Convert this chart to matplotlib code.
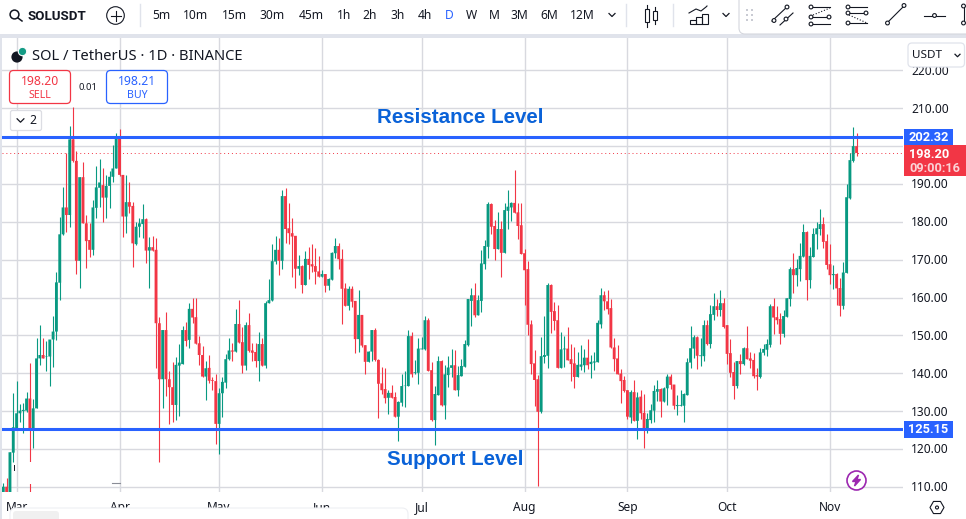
import matplotlib
matplotlib.use("Agg")
import numpy as np
import pandas as pd
import matplotlib.pyplot as plt
import matplotlib.dates as mdates
from matplotlib.patches import Rectangle, FancyBboxPatch, Circle, RegularPolygon

plt.rcParams['font.family'] = ['Noto Sans', 'DejaVu Sans']

# daily SOL/USDT candles
start_date = "2024-02-26"

opens = [
    106.5, 110.0, 106.5, 119.0, 125.4, 129.4, 130.0, 130.1, 133.3, 125.2,
    130.7, 143.9, 144.8, 144.4, 144.4, 148.9, 151.0, 163.9, 176.7, 183.8,
    181.8, 201.8, 196.1, 169.7, 191.8, 179.6, 175.2, 172.6, 183.7, 189.0,
    189.7, 186.4, 189.5, 191.9, 194.1, 202.5, 192.4, 181.4, 185.2, 184.2,
    174.1, 178.7, 179.4, 180.7, 172.4, 173.3, 172.6, 153.2, 138.4, 151.4,
    138.4, 136.3, 131.6, 142.0, 142.4, 151.4, 148.8, 157.0, 154.8, 147.9,
    144.8, 139.1, 141.4, 138.2, 137.9, 126.6, 134.7, 137.5, 143.7, 146.0,
    145.7, 153.0, 148.2, 142.0, 152.7, 146.0, 145.6, 143.2, 147.7, 142.0,
    158.5, 159.2, 169.5, 172.6, 169.7, 186.8, 178.3, 177.0, 176.3, 167.6,
    168.3, 163.3, 170.2, 168.8, 168.3, 166.9, 165.5, 166.2, 163.1, 164.7,
    171.7, 173.6, 170.2, 162.4, 157.8, 162.3, 159.1, 149.0, 155.4, 147.4,
    143.0, 145.7, 151.4, 143.5, 137.3, 135.8, 133.5, 134.8, 133.7, 128.5,
    132.2, 136.6, 136.6, 149.8, 140.1, 140.1, 146.3, 146.3, 154.0, 140.8,
    127.6, 134.2, 143.2, 131.5, 139.5, 141.4, 142.1, 135.5, 139.2, 141.7,
    147.4, 159.1, 160.6, 155.3, 159.1, 168.8, 173.4, 184.7, 178.9, 172.8,
    178.1, 171.8, 182.9, 183.8, 185.0, 182.5, 179.1, 171.7, 167.5, 152.9,
    142.6, 138.4, 129.8, 144.3, 144.6, 163.3, 156.4, 154.0, 141.4, 146.3,
    146.5, 143.7, 142.6, 139.0, 141.7, 142.1, 144.1, 142.4, 142.8, 142.9,
    152.9, 160.6, 159.0, 157.2, 146.8, 143.9, 139.9, 138.2, 135.5, 128.3,
    135.0, 127.4, 133.8, 129.5, 125.0, 127.6, 130.1, 135.1, 135.8, 132.5,
    136.0, 139.1, 137.0, 131.3, 131.4, 131.4, 134.2, 142.8, 146.5, 149.5,
    144.5, 144.5, 152.7, 147.7, 155.4, 157.7, 156.7, 158.5, 152.7, 145.3,
    140.3, 136.6, 143.2, 142.4, 146.6, 143.9, 143.5, 139.5, 139.0, 145.4,
    146.2, 147.5, 157.7, 154.8, 154.3, 150.4, 154.9, 159.6, 167.5, 165.9,
    167.5, 170.8, 177.3, 164.6, 170.7, 176.7, 178.1, 179.4, 174.9, 168.8,
    165.9, 166.2, 162.5, 157.8, 166.5, 186.2, 196.1, 200.0,
]
highs = [
    110.9, 112.2, 119.1, 134.7, 137.9, 131.9, 132.0, 135.1, 142.6, 133.3,
    149.2, 152.7, 149.2, 148.5, 148.9, 155.1, 166.8, 181.4, 189.1, 198.1,
    205.3, 210.3, 198.8, 191.8, 195.9, 181.8, 179.6, 185.8, 194.8, 196.5,
    194.1, 192.4, 193.3, 200.3, 203.4, 204.5, 192.4, 192.4, 190.4, 185.3,
    180.0, 180.9, 184.7, 180.9, 176.1, 176.3, 175.6, 154.9, 151.4, 156.3,
    140.7, 143.0, 144.2, 147.7, 152.5, 153.6, 158.5, 160.0, 159.8, 149.8,
    147.2, 143.2, 144.8, 139.1, 139.8, 136.0, 138.9, 145.0, 149.2, 147.9,
    156.9, 159.3, 152.1, 153.4, 155.8, 147.9, 147.9, 150.8, 149.2, 159.2,
    164.9, 174.1, 176.3, 175.6, 188.4, 188.9, 185.1, 180.9, 176.3, 171.2,
    168.6, 172.3, 173.4, 174.1, 173.0, 171.0, 167.3, 166.2, 165.1, 172.1,
    175.6, 174.3, 172.8, 163.7, 163.0, 163.1, 159.1, 162.0, 155.4, 147.4,
    145.9, 151.4, 151.9, 143.7, 141.7, 141.3, 135.5, 136.9, 135.1, 132.7,
    139.9, 140.6, 151.4, 150.8, 143.4, 149.2, 149.6, 155.2, 154.5, 142.9,
    136.6, 144.5, 143.4, 142.1, 144.5, 146.3, 146.1, 141.9, 143.7, 148.7,
    159.6, 162.4, 163.7, 160.6, 172.5, 175.2, 185.3, 185.0, 180.6, 182.5,
    180.3, 185.1, 188.4, 185.3, 193.8, 185.1, 185.1, 172.9, 169.6, 154.0,
    146.1, 139.5, 149.6, 155.1, 163.7, 163.5, 158.9, 158.0, 150.8, 149.8,
    152.2, 147.7, 147.0, 145.6, 147.4, 146.3, 149.0, 144.8, 145.5, 154.0,
    162.5, 161.8, 161.9, 159.7, 149.2, 147.4, 141.0, 139.2, 135.5, 135.5,
    138.2, 135.1, 135.5, 134.5, 129.4, 131.8, 137.0, 138.2, 136.2, 136.4,
    139.8, 139.7, 137.0, 134.2, 135.5, 134.7, 144.1, 152.5, 150.2, 149.8,
    149.2, 154.0, 154.0, 158.0, 161.3, 159.6, 162.0, 159.9, 152.7, 149.0,
    143.0, 143.2, 145.1, 147.0, 152.5, 145.5, 145.4, 141.3, 146.6, 147.7,
    149.0, 158.3, 159.9, 157.7, 155.8, 156.7, 159.8, 168.1, 171.7, 170.3,
    174.3, 179.4, 177.6, 173.4, 178.3, 180.0, 183.4, 181.3, 176.8, 174.1,
    168.6, 166.6, 165.1, 169.3, 190.0, 198.1, 205.1, 203.4,
]
lows = [
    106.0, 106.0, 106.0, 116.6, 125.0, 127.2, 124.3, 129.8, 106.0, 120.1,
    130.7, 142.2, 143.9, 140.7, 136.6, 141.7, 148.9, 159.3, 176.5, 177.4,
    178.7, 195.9, 166.2, 162.6, 179.6, 167.9, 170.6, 171.2, 180.9, 183.8,
    180.0, 180.9, 183.6, 190.6, 194.1, 192.1, 176.1, 177.0, 182.2, 168.1,
    173.9, 175.9, 175.6, 169.2, 162.6, 172.4, 141.3, 116.6, 130.7, 134.0,
    126.7, 127.2, 127.6, 128.7, 142.4, 147.2, 146.7, 153.3, 147.8, 142.2,
    138.9, 132.9, 137.3, 135.5, 121.3, 118.6, 128.5, 136.0, 143.5, 143.3,
    145.7, 148.1, 140.0, 140.8, 145.7, 143.3, 141.7, 138.0, 142.0, 141.4,
    158.5, 159.2, 168.9, 165.9, 167.5, 174.5, 174.1, 165.5, 162.6, 165.9,
    161.3, 163.3, 164.9, 166.8, 163.6, 165.5, 165.5, 161.5, 162.0, 164.6,
    170.4, 167.5, 153.0, 157.8, 156.7, 157.4, 145.4, 145.7, 147.0, 139.8,
    143.0, 143.3, 143.3, 128.2, 134.5, 132.2, 129.1, 133.4, 128.5, 122.2,
    131.3, 131.1, 136.6, 139.0, 139.9, 137.1, 146.3, 146.1, 140.6, 127.4,
    121.0, 134.2, 131.3, 127.9, 136.4, 138.9, 135.5, 133.9, 139.2, 141.7,
    147.2, 152.5, 154.9, 155.3, 156.2, 167.4, 170.5, 176.7, 169.9, 172.8,
    165.5, 171.8, 178.1, 180.3, 182.2, 175.4, 171.5, 158.0, 150.0, 139.9,
    131.3, 110.1, 129.5, 142.6, 141.4, 150.5, 151.4, 141.4, 141.4, 141.7,
    143.4, 138.0, 136.1, 139.0, 140.8, 140.4, 141.1, 138.8, 140.8, 142.9,
    152.0, 156.6, 155.6, 146.7, 140.6, 139.7, 132.2, 135.1, 128.0, 126.9,
    127.4, 122.6, 127.9, 120.3, 124.3, 126.9, 127.2, 132.6, 128.5, 132.3,
    131.6, 135.8, 130.6, 128.9, 131.3, 127.2, 134.2, 141.4, 143.9, 141.1,
    141.9, 143.3, 147.4, 146.6, 154.0, 155.2, 155.2, 152.0, 142.4, 138.9,
    133.2, 136.1, 139.9, 142.1, 143.7, 141.3, 138.8, 135.5, 138.8, 144.8,
    144.5, 146.8, 150.3, 153.0, 147.7, 149.6, 154.9, 157.7, 161.3, 163.1,
    164.3, 170.8, 159.3, 162.6, 170.6, 172.7, 176.5, 173.1, 167.5, 163.6,
    162.2, 158.0, 155.1, 156.9, 166.5, 186.0, 195.9, 197.4,
]
closes = [
    110.0, 106.5, 119.1, 125.7, 129.4, 130.1, 130.3, 133.3, 125.2, 130.7,
    143.9, 144.8, 143.9, 144.5, 148.9, 151.0, 164.0, 176.7, 183.8, 181.8,
    201.8, 196.1, 169.7, 191.8, 179.6, 174.9, 172.6, 183.8, 189.1, 190.4,
    186.4, 189.5, 191.9, 194.1, 202.5, 192.4, 181.4, 185.2, 184.0, 174.3,
    178.7, 179.6, 180.7, 172.4, 173.3, 172.4, 153.2, 138.4, 151.4, 138.4,
    136.3, 131.6, 142.2, 142.8, 151.4, 148.5, 157.0, 154.7, 147.8, 144.8,
    139.1, 141.3, 138.0, 138.0, 126.6, 134.7, 137.7, 143.7, 146.0, 145.7,
    153.0, 148.1, 142.0, 152.7, 145.9, 145.4, 143.2, 147.7, 142.0, 158.5,
    159.3, 169.6, 172.6, 169.7, 186.8, 178.1, 177.0, 176.1, 167.6, 168.3,
    163.3, 170.2, 168.6, 168.2, 166.8, 165.5, 166.2, 163.1, 164.9, 171.8,
    173.6, 170.1, 162.3, 157.8, 162.3, 158.9, 149.0, 155.4, 147.3, 143.0,
    145.7, 151.4, 143.5, 137.2, 135.5, 133.4, 134.8, 133.5, 128.5, 132.4,
    136.6, 136.7, 149.8, 139.7, 140.3, 146.5, 146.5, 154.0, 140.6, 127.6,
    134.5, 143.2, 131.5, 139.7, 141.5, 142.1, 135.5, 139.5, 141.9, 147.7,
    159.6, 160.6, 155.3, 159.3, 169.0, 173.6, 184.7, 178.7, 172.8, 178.1,
    171.8, 183.1, 184.0, 185.0, 182.4, 178.9, 171.5, 167.2, 152.8, 142.4,
    138.2, 129.8, 144.5, 144.8, 163.3, 156.2, 153.8, 141.4, 146.3, 146.5,
    143.4, 142.4, 139.0, 142.2, 142.3, 144.1, 142.1, 143.0, 143.1, 153.3,
    160.6, 159.0, 156.9, 146.8, 143.7, 139.7, 137.9, 135.3, 128.5, 135.0,
    127.4, 133.6, 129.4, 125.0, 127.9, 130.2, 135.3, 135.8, 132.5, 136.0,
    139.1, 136.9, 131.4, 131.6, 131.6, 134.5, 142.9, 146.6, 149.5, 144.6,
    144.7, 152.7, 147.7, 155.6, 157.7, 156.7, 158.5, 152.2, 145.1, 140.1,
    136.6, 143.2, 142.4, 146.6, 143.7, 143.3, 139.2, 139.1, 145.5, 146.4,
    147.7, 157.7, 154.7, 154.0, 150.4, 155.1, 159.8, 167.5, 165.9, 167.8,
    171.0, 177.3, 164.6, 171.0, 176.8, 178.3, 179.4, 174.7, 168.6, 165.9,
    166.2, 162.4, 157.8, 166.6, 186.5, 196.3, 200.0, 198.2,
]

resistance = 202.32
support = 125.15
last_price = 198.20
buy_price = 198.21
price_ticks = [110, 120, 130, 140, 150, 160, 170, 180, 190, 200, 210, 220]
tick_labels = ["110.00", "120.00", "130.00", "140.00", "150.00", "160.00",
               "170.00", "180.00", "190.00", "", "210.00", "220.00"]
timeframes = ["5m", "10m", "15m", "30m", "45m", "1h", "2h", "3h", "4h", "D",
              "W", "M", "3M", "6M", "12M"]

GREEN = "#089981"
RED = "#F23645"
BLUE = "#2962FF"
GRID = "#d8d9df"
TEXT = "#131722"
BOLD = ["Roboto", "DejaVu Sans"]
W, H = 966, 519


def pane_axes(fig):
    # pane spans x 2..903, y 38..492 in pixels
    ax = fig.add_axes([2 / W, 1 - 492 / H, 901 / W, 454 / H], zorder=1)
    t0 = mdates.date2num(pd.Timestamp(start_date))
    ax.set_xlim(t0 + (2 - 3.3) / 3.32, t0 + (903 - 3.3) / 3.32)
    ax.set_ylim(210 - (492 - 108.3) / 3.784, 210 + (108.3 - 38) / 3.784)
    for s in ax.spines.values():
        s.set_visible(False)
    ax.tick_params(length=0, labelbottom=False, labelleft=False)
    ax.xaxis.set_major_locator(mdates.MonthLocator())
    ax.set_yticks(price_ticks)
    ax.grid(True, color=GRID, lw=1.0)
    ax.set_axisbelow(True)
    return ax


def draw_candles(ax):
    dates = mdates.date2num(pd.date_range(start_date, periods=len(opens)))
    o, h, l, c = map(np.array, (opens, highs, lows, closes))
    colors = np.where(c >= o, GREEN, RED)
    ax.vlines(dates, l, h, colors=colors, lw=0.8, zorder=3)
    bars = ax.bar(dates, np.abs(c - o), bottom=np.minimum(o, c), width=0.86,
                  color=colors, linewidth=0, zorder=3)
    for b in bars:
        b.set_snap(False)


def draw_levels(ax):
    ax.axhline(resistance, color=BLUE, lw=2.2, zorder=4)
    ax.axhline(support, color=BLUE, lw=2.2, zorder=4)
    ax.axhline(last_price, color=RED, lw=0.7, ls=(0, (1, 3)), zorder=2)


def box(ui, x0, y0, x1, y1, fc="white", ec="none", lw=1.0, r=3, z=5):
    ui.add_patch(FancyBboxPatch((x0 + r, y0 + r), x1 - x0 - 2 * r, y1 - y0 - 2 * r,
                                boxstyle=f"round,pad={r},rounding_size={r}",
                                fc=fc, ec=ec, lw=lw, zorder=z))


def node_line(ui, x0, y0, x1, y1, nodes=(), ls="-", z=8):
    ui.plot([x0, x1], [y0, y1], color=TEXT, lw=0.8, ls=ls, zorder=z)
    for nx, ny in nodes:
        ui.add_patch(Circle((nx, ny), 1.9, fc="white", ec=TEXT, lw=0.8, zorder=z + 1))


def chevron(ui, x, y, size=3, color=TEXT):
    ui.plot([x - size, x, x + size], [y - size / 2, y + size / 2, y - size / 2],
            color=color, lw=0.9, zorder=9)


def draw_toolbar(ui):
    ui.add_patch(Rectangle((0, 0), W, 34, fc="white", ec="none", zorder=5))
    ui.add_patch(Rectangle((0, 34), W, 4, fc="#e0e3eb", ec="none", zorder=5))
    ui.add_patch(Rectangle((0, 34), 1.5, H - 34, fc="#e0e3eb", ec="none", zorder=5))
    box(ui, 739, -8, 975, 34, fc="white", ec="#d5d7de", lw=0.8, r=6, z=6)

    ui.add_patch(Circle((14.5, 14.5), 4.4, fc="none", ec=TEXT, lw=1.1, zorder=8))
    ui.plot([18, 22], [18, 21], color=TEXT, lw=1.1, zorder=8)
    ui.text(27, 16, "SOLUSDT", family=BOLD, fontsize=9.6, fontweight="bold", color=TEXT,
            va="center", ha="left", zorder=8)
    ui.add_patch(Circle((115.5, 15.5), 8.8, fc="none", ec=TEXT, lw=0.8, zorder=8))
    ui.plot([110.5, 120.5], [15.5, 15.5], color=TEXT, lw=0.8, zorder=8)
    ui.plot([115.5, 115.5], [10.5, 20.5], color=TEXT, lw=0.8, zorder=8)
    for sep in (139.5, 626, 673):
        ui.plot([sep, sep], [4, 26], color="#e0e3eb", lw=1, zorder=8)

    tf_x = [161, 196, 234.5, 272.5, 311, 344, 370, 397.5, 424.5, 449, 471, 494,
            519.5, 549, 582]
    for x, label in zip(tf_x, timeframes):
        ui.text(x, 15.5, label, fontsize=8.7, va="center", ha="center", zorder=8,
                color=BLUE if label == "D" else TEXT)
    chevron(ui, 612, 15)
    chevron(ui, 726, 15)

    # candle icon
    for x, y0, y1, w0, w1 in ((647, 5, 27, 9, 22), (654.5, 7, 24, 11, 20)):
        ui.plot([x, x], [y0, y1], color=TEXT, lw=0.8, zorder=8)
        ui.add_patch(Rectangle((x - 2, w0), 4, w1 - w0, fc="white", ec=TEXT, lw=0.8, zorder=9))
    # indicators icon
    ui.plot([689, 696, 701, 706, 707], [13, 9, 11, 7, 6], color=TEXT, lw=0.8, zorder=8)
    for x, top in ((690, 20), (696, 17), (702, 14)):
        ui.add_patch(Rectangle((x, top), 5.5, 23.5 - top, fc="none", ec=TEXT, lw=0.8, zorder=8))
    # drag dots
    for x in (747, 752):
        for y in (10, 15, 20):
            ui.add_patch(Rectangle((x - 1, y - 1), 2.2, 2.2, fc="#c9cbd3", ec="none", zorder=8))
    # drawing tools
    node_line(ui, 772, 21, 788, 6, [(774, 20.5), (787, 7)])
    node_line(ui, 780, 25, 793, 13, [(786, 19)])
    for y in (7, 17, 24):
        node_line(ui, 810, y, 830, y, [(811, y)])
    node_line(ui, 813, 15, 830, 8, ls=":")
    ui.add_patch(Circle((829, 17), 1.9, fc="white", ec=TEXT, lw=0.8, zorder=9))
    for y, end in ((7, 867), (13, 867), (23, 867)):
        node_line(ui, 848, y, end, y, [(848, y)])
    node_line(ui, 849, 15, 867, 23, ls=":")
    ui.add_patch(Circle((866, 13), 1.9, fc="white", ec=TEXT, lw=0.8, zorder=9))
    node_line(ui, 887, 23, 904, 6, [(887.5, 23), (904, 5.5)])
    node_line(ui, 924, 15.5, 945, 15.5, [(934.5, 15.5)])
    node_line(ui, 963.5, 6, 963.5, 23, [(963.5, 6), (963.5, 23)])


def draw_legend(ui):
    ui.add_patch(Circle((17, 57), 5.6, fc="#131722", ec="none", zorder=7))
    ui.add_patch(Circle((22.5, 51.5), 4.2, fc="#159c86", ec="white", lw=0.8, zorder=8))
    ui.text(32, 56, "SOL / TetherUS · 1D · BINANCE", fontsize=10.6, color=TEXT,
            va="center", ha="left", zorder=8)

    box(ui, 9.5, 70.5, 70.5, 103.5, ec=RED, lw=0.9, r=4)
    ui.text(40, 81.5, f"{last_price:.2f}", fontsize=8.8, color=RED, ha="center", va="center", zorder=8)
    ui.text(40, 95.5, "SELL", fontsize=7.6, color=RED, ha="center", va="center", zorder=8)
    ui.text(88, 87.5, "0.01", fontsize=6.8, color=TEXT, ha="center", va="center", zorder=8)
    box(ui, 106.5, 70.5, 167.5, 103.5, ec=BLUE, lw=0.9, r=4)
    ui.text(137, 81.5, f"{buy_price:.2f}", fontsize=8.8, color=BLUE, ha="center", va="center", zorder=8)
    ui.text(137, 95.5, "BUY", fontsize=7.6, color=BLUE, ha="center", va="center", zorder=8)

    box(ui, 10.5, 110.5, 41.5, 130.5, ec="#dcdde3", lw=0.9, r=2)
    chevron(ui, 20.5, 120.5, size=3.4)
    ui.text(33, 121, "2", fontsize=8.8, color=TEXT, ha="center", va="center", zorder=8)


def draw_price_scale(ui, ax):
    # white gutter for the scale and the date strip
    ui.add_patch(Rectangle((903, 38), W - 903, H - 38, fc="white", ec="none", zorder=2))
    for p, label in zip(price_ticks, tick_labels):
        y = ax.transData.transform((0, p))[1]
        ui.text(930, H - y + 1, label, fontsize=8.6, color=TEXT, ha="center",
                va="center", zorder=3)

    def tag(p, label):
        y = H - ax.transData.transform((0, p))[1]
        ui.add_patch(Rectangle((904, y - 8.5), 49, 17, fc=BLUE, ec="none", zorder=6))
        ui.text(928.5, y + 0.5, label, family=BOLD, fontsize=9.2, color="white", fontweight="bold",
                ha="center", va="center", zorder=8)

    tag(resistance, f"{resistance:.2f}")
    tag(support, f"{support:.2f}")
    ui.add_patch(Rectangle((904, 145), 62, 31, fc=RED, ec="none", zorder=7))
    ui.text(929, 154, f"{last_price:.2f}", family=BOLD, fontsize=9.2, color="white", fontweight="bold",
            ha="center", va="center", zorder=8)
    ui.text(935, 168, "09:00:16", family=BOLD, fontsize=9.2, color="#fbd3d7", fontweight="bold",
            ha="center", va="center", zorder=8)

    box(ui, 908, 43, 964.5, 67, ec="#e0e3eb", lw=0.9, r=4)
    ui.text(912, 55, "USDT", fontsize=8.4, color=TEXT, ha="left", va="center", zorder=8)
    chevron(ui, 957.5, 55.5, size=2.5)


def draw_date_strip(ui, ax):
    ui.add_patch(Rectangle((1.5, 492), W - 65, H - 492, fc="white", ec="none", zorder=2))
    months = pd.date_range("2024-03-01", "2024-11-01", freq="MS")
    for m in months:
        x = ax.transData.transform((mdates.date2num(m), 0))[0]
        ui.text(x, 507.5, m.strftime("%b"), fontsize=8.6, color=TEXT, ha="center",
                va="center", zorder=3)
    # panel hiding the lower half of the first labels
    box(ui, 10, 508, 408, 530, fc="white", ec="#eeeff3", lw=0.8, r=6, z=4)
    box(ui, 13, 511, 59, 530, fc="#f0f0f0", r=3, z=4.5)
    # settings icon
    ui.add_patch(RegularPolygon((937, 507.5), 6, radius=7, orientation=np.pi / 2,
                                fc="none", ec=TEXT, lw=0.8, zorder=8))
    ui.add_patch(Circle((937, 507.5), 1.5, fc="none", ec=TEXT, lw=0.8, zorder=8))
    # lightning button
    ui.add_patch(Circle((856.5, 480.5), 9.5, fc="white", ec="#9c27b0", lw=1.2, zorder=8))
    ui.fill([858.5, 852.5, 856, 854.5, 860.5, 857], [475, 481.5, 481.5, 486, 479.5, 479.5],
            color="#9c27b0", zorder=9)


def main():
    fig = plt.figure(figsize=(W / 100, H / 100), dpi=100, facecolor="white")
    ax = pane_axes(fig)
    draw_candles(ax)
    draw_levels(ax)

    ui = fig.add_axes([0, 0, 1, 1], zorder=2)
    ui.set_xlim(0, W)
    ui.set_ylim(H, 0)
    ui.axis("off")
    ui.patch.set_alpha(0)

    # retouched gap below the March candle, with its leftovers
    ui.add_patch(Rectangle((27, 461.5), 7, 22, fc="white", ec="none", zorder=1))
    ui.plot([13.5, 13.5], [465, 470], color=TEXT, lw=0.7, zorder=1)
    ui.plot([112, 120], [483, 483], color="#8a8d96", lw=0.8, zorder=1)

    draw_price_scale(ui, ax)
    draw_date_strip(ui, ax)
    draw_toolbar(ui)
    draw_legend(ui)

    ui.text(460.5, 117.5, "Resistance Level", family=["Liberation Sans"], fontsize=14.8,
            fontweight="bold", color="#0a62d8", ha="center", va="center", zorder=8)
    ui.text(455.5, 459.5, "Support Level", family=["Liberation Sans"], fontsize=14.8,
            fontweight="bold", color="#0a62d8", ha="center", va="center", zorder=8)

    fig.savefig("out.png", dpi=100)


if __name__ == "__main__":
    main()
